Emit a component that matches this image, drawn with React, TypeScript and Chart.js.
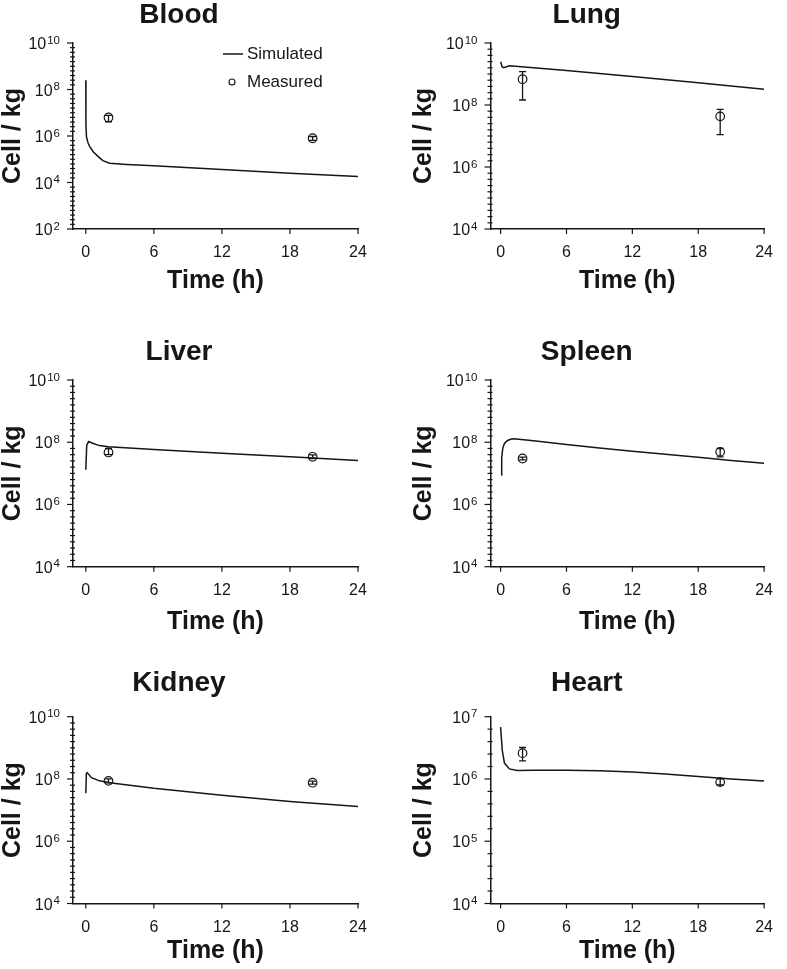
import React, { useEffect, useRef } from 'react';
import { Chart, registerables } from 'chart.js';

Chart.register(...registerables);

const FONT = '"Liberation Sans", Arial, Helvetica, sans-serif';
const INK = '#161616';

// ---------- data ----------
const xTicks = [0, 6, 12, 18, 24];
const measTime = [2, 20];

const bloodSimTime = [0, 0.01, 0.06, 0.2, 0.35, 0.65, 1.1, 1.5, 2.1, 3.6, 6, 12, 18, 24];
const bloodSim = [2.5e8, 3e6, 9e5, 5e5, 3.5e5, 2.1e5, 1.3e5, 8.7e4, 6.8e4, 6e4, 5.2e4, 3.6e4, 2.5e4, 1.8e4];
const bloodMeas = [6.3e6, 8e5];
const bloodLow = [4.1e6, 6.5e5];
const bloodHigh = [7.7e6, 9.5e5];
const bloodTicks = [1e2, 1e4, 1e6, 1e8, 1e10];

const lungSimTime = [0, 0.15, 0.3, 0.8, 3, 6, 12, 18, 24];
const lungSim = [2.5e9, 1.7e9, 1.6e9, 1.85e9, 1.6e9, 1.3e9, 8.3e8, 5.2e8, 3.2e8];
const lungMeas = [6.8e8, 4.3e7];
const lungLow = [1.45e8, 1.1e7];
const lungHigh = [1.2e9, 7.2e7];

const liverSimTime = [0, 0.08, 0.25, 0.6, 1.2, 2, 6, 12, 18, 24];
const liverSim = [1.3e7, 8e7, 1.05e8, 9.3e7, 7.8e7, 7.2e7, 5.8e7, 4.4e7, 3.4e7, 2.6e7];
const liverMeas = [4.7e7, 3.4e7];
const liverLow = [4e7, 3e7];
const liverHigh = [6.3e7, 3.9e7];

const spleenSimTime = [0.05, 0.1, 0.2, 0.35, 0.6, 0.9, 1.2, 3, 6, 9, 12, 15, 18, 21, 24];
const spleenSim = [8.9e6, 3.2e7, 6.5e7, 9.1e7, 1.12e8, 1.25e8, 1.3e8, 1.12e8, 8.4e7, 6.5e7, 5.1e7, 4.1e7, 3.3e7, 2.6e7, 2.1e7];
const spleenMeas = [3e7, 4.9e7];
const spleenLow = [2.7e7, 3.4e7];
const spleenHigh = [3.3e7, 6.3e7];

const kidneySimTime = [0, 0.05, 0.12, 0.5, 1.2, 2.1, 6, 12, 18, 24];
const kidneySim = [3.5e7, 1.5e8, 1.6e8, 1.1e8, 8.7e7, 7.6e7, 5e7, 3e7, 1.9e7, 1.3e7];
const kidneyMeas = [8.7e7, 7.6e7];
const kidneyLow = [7.5e7, 6.8e7];
const kidneyHigh = [1e8, 8.5e7];

const heartSimTime = [0, 0.15, 0.35, 0.8, 1.5, 3, 6, 9, 12, 15, 18, 21, 24];
const heartSim = [6.8e6, 2.9e6, 1.8e6, 1.45e6, 1.37e6, 1.38e6, 1.38e6, 1.35e6, 1.29e6, 1.2e6, 1.1e6, 1.0e6, 9.3e5];
const heartMeas = [2.6e6, 8.9e5];
const heartLow = [1.95e6, 8e5];
const heartHigh = [3.2e6, 1e6];

const organTicks = [1e4, 1e6, 1e8, 1e10];
const heartTicks = [1e4, 1e5, 1e6, 1e7];

const legendLabels = ['Simulated', 'Measured'];

// ---------- layout ----------
const LEFT = { x: 0, w: 385, yW: 73, yTitlePad: 0.5, xMin: -1.13, padRight: 27 };
const RIGHT = { x: 400, w: 387, yW: 90.5, yTitlePad: 12.1, xMin: -0.92, padRight: 13.5 };
const ROW1 = { y: 0, h: 294, tTop: 1, tBottom: 14, xH: 65 };
const ROW2 = { y: 310, h: 325, tTop: 28, tBottom: 14, xH: 68.3 };
const ROW3 = { y: 640, h: 324, tTop: 29, tBottom: 19.7, xH: 60.5 };

const panels = [
  { title: 'Blood', t: bloodSimTime, s: bloodSim, m: bloodMeas, lo: bloodLow, hi: bloodHigh, majors: bloodTicks, col: LEFT, row: ROW1, legend: true },
  { title: 'Lung', t: lungSimTime, s: lungSim, m: lungMeas, lo: lungLow, hi: lungHigh, majors: organTicks, col: RIGHT, row: ROW1 },
  { title: 'Liver', t: liverSimTime, s: liverSim, m: liverMeas, lo: liverLow, hi: liverHigh, majors: organTicks, col: LEFT, row: ROW2 },
  { title: 'Spleen', t: spleenSimTime, s: spleenSim, m: spleenMeas, lo: spleenLow, hi: spleenHigh, majors: organTicks, col: RIGHT, row: ROW2 },
  { title: 'Kidney', t: kidneySimTime, s: kidneySim, m: kidneyMeas, lo: kidneyLow, hi: kidneyHigh, majors: organTicks, col: LEFT, row: ROW3 },
  { title: 'Heart', t: heartSimTime, s: heartSim, m: heartMeas, lo: heartLow, hi: heartHigh, majors: heartTicks, col: RIGHT, row: ROW3 },
];

const decorPlugin = {
  id: 'decor',
  afterDatasetsDraw(chart: any, _args: any, opts: any) {
    const { ctx, chartArea } = chart;
    const xs = chart.scales.x;
    const ys = chart.scales.y;
    ctx.save();
    ctx.strokeStyle = INK;
    ctx.fillStyle = INK;
    ctx.lineWidth = 1.3;
    // error bars
    opts.meas.forEach((_v: number, i: number) => {
      const x = xs.getPixelForValue(measTime[i]);
      const yl = ys.getPixelForValue(opts.lo[i]);
      const yh = ys.getPixelForValue(opts.hi[i]);
      ctx.beginPath();
      ctx.moveTo(x, yl); ctx.lineTo(x, yh);
      ctx.moveTo(x - 3.5, yl); ctx.lineTo(x + 3.5, yl);
      ctx.moveTo(x - 3.5, yh); ctx.lineTo(x + 3.5, yh);
      ctx.stroke();
    });
    // x tick marks
    ctx.lineWidth = 1.2;
    const b = chartArea.bottom;
    xTicks.forEach((v) => {
      const x = xs.getPixelForValue(v);
      ctx.beginPath(); ctx.moveTo(x, b); ctx.lineTo(x, b + 5); ctx.stroke();
    });
    // y tick marks (major + minor)
    const l = chartArea.left;
    const lmin = Math.log10(ys.min), lmax = Math.log10(ys.max);
    for (let k = 0; lmin + k * 0.2 <= lmax + 1e-9; k++) {
      const e = lmin + k * 0.2;
      const isMajor = opts.majors.some((m: number) => Math.abs(Math.log10(m) - e) < 1e-6);
      const y = ys.getPixelForValue(Math.pow(10, e));
      ctx.beginPath();
      if (isMajor) { ctx.moveTo(l - 6, y); ctx.lineTo(l, y); }
      else { ctx.moveTo(l - 3, y); ctx.lineTo(l + 2, y); }
      ctx.stroke();
    }
    // y tick labels: 10 with superscript exponent
    ctx.textBaseline = 'alphabetic';
    opts.majors.forEach((v: number) => {
      const y = ys.getPixelForValue(v);
      const exp = String(Math.round(Math.log10(v)));
      ctx.font = `11.5px ${FONT}`;
      const ew = ctx.measureText(exp).width;
      const right = l - 13;
      ctx.textAlign = 'right';
      ctx.fillText(exp, right, y + 0.5);
      ctx.font = `16px ${FONT}`;
      ctx.fillText('10', right - ew - 1, y + 6);
    });
    // legend
    if (opts.legend) {
      const lx = chartArea.left + 150;
      const ly1 = chartArea.top + 11;
      const ly2 = chartArea.top + 39;
      ctx.lineWidth = 1.5;
      ctx.beginPath(); ctx.moveTo(lx, ly1); ctx.lineTo(lx + 20, ly1); ctx.stroke();
      ctx.lineWidth = 1.1;
      ctx.beginPath(); ctx.arc(lx + 9, ly2, 3, 0, Math.PI * 2); ctx.stroke();
      ctx.font = `17px ${FONT}`;
      ctx.textAlign = 'left';
      ctx.textBaseline = 'middle';
      ctx.fillText(legendLabels[0], lx + 24, ly1);
      ctx.fillText(legendLabels[1], lx + 24, ly2);
    }
    ctx.restore();
  },
};

function makeConfig(p: any): any {
  const { col, row } = p;
  return {
    type: 'scatter',
    data: {
      datasets: [
        {
          label: legendLabels[0],
          data: p.t.map((t: number, i: number) => ({ x: t, y: p.s[i] })),
          showLine: true,
          borderColor: INK,
          borderWidth: 1.5,
          pointRadius: 0,
          tension: 0,
          fill: false,
        },
        {
          label: legendLabels[1],
          data: measTime.map((t, i) => ({ x: t, y: p.m[i] })),
          showLine: false,
          pointRadius: 4.3,
          pointStyle: 'circle',
          borderColor: INK,
          backgroundColor: 'rgba(255,255,255,0)',
          borderWidth: 1.2,
        },
      ],
    },
    options: {
      responsive: false,
      animation: false,
      events: [],
      layout: { padding: { left: 0, top: 0, bottom: 0, right: col.padRight } },
      plugins: {
        legend: { display: false },
        tooltip: { enabled: false },
        title: {
          display: true,
          text: p.title,
          color: INK,
          font: { family: FONT, size: 28, weight: 'bold', lineHeight: 1 },
          padding: { top: row.tTop, bottom: row.tBottom },
        },
        decor: { meas: p.m, lo: p.lo, hi: p.hi, majors: p.majors, legend: !!p.legend },
      },
      scales: {
        x: {
          type: 'linear',
          min: col.xMin,
          max: 24,
          afterBuildTicks: (s: any) => { s.ticks = xTicks.map((v) => ({ value: v })); },
          afterFit: (s: any) => { s.height = row.xH; },
          grid: { display: false, drawTicks: false },
          border: { display: true, color: INK, width: 1.5 },
          ticks: { color: INK, font: { family: FONT, size: 16 }, padding: 14, maxRotation: 0, autoSkip: false },
          title: {
            display: true,
            text: 'Time (h)',
            color: INK,
            font: { family: FONT, size: 25, weight: 'bold', lineHeight: 1 },
            padding: { top: 0, bottom: 0 },
          },
        },
        y: {
          type: 'logarithmic',
          min: p.majors[0],
          max: p.majors[p.majors.length - 1],
          afterBuildTicks: (s: any) => { s.ticks = p.majors.map((v: number) => ({ value: v, major: true })); },
          afterFit: (s: any) => { s.width = col.yW; },
          grid: { display: false, drawTicks: false },
          border: { display: true, color: INK, width: 1.5 },
          ticks: { display: false },
          title: {
            display: true,
            text: 'Cell / kg',
            color: INK,
            font: { family: FONT, size: 25, weight: 'bold', lineHeight: 1 },
            padding: { top: col.yTitlePad, bottom: 0 },
          },
        },
      },
    },
    plugins: [decorPlugin],
  };
}

function Panel({ p }: { p: any }) {
  const ref = useRef<HTMLCanvasElement>(null);
  useEffect(() => {
    const chart = new Chart(ref.current as HTMLCanvasElement, makeConfig(p));
    return () => chart.destroy();
  }, [p]);
  return (
    <canvas
      ref={ref}
      width={p.col.w}
      height={p.row.h}
      style={{ position: 'absolute', left: p.col.x, top: p.row.y, width: p.col.w, height: p.row.h }}
    />
  );
}

export default function App() {
  return (
    <div style={{ position: 'absolute', left: 0, top: 0, width: 787, height: 969, background: '#fff', overflow: 'hidden' }}>
      {panels.map((p) => (
        <Panel key={p.title} p={p} />
      ))}
    </div>
  );
}
